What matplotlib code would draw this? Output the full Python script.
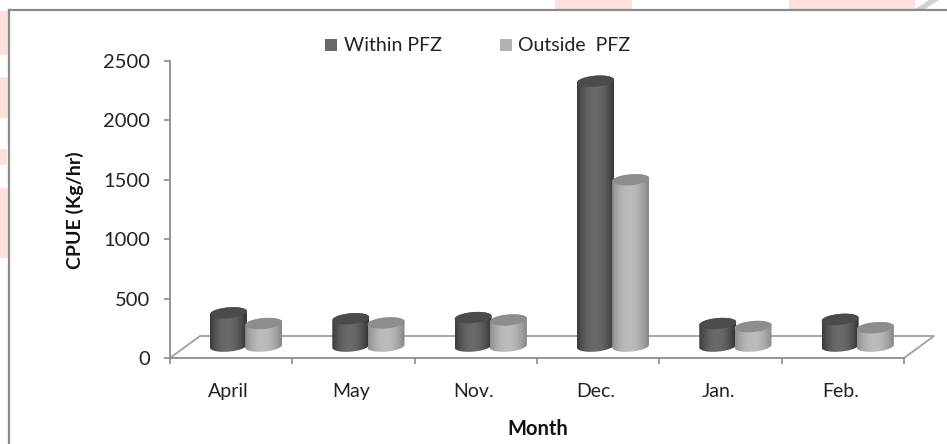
import numpy as np
import matplotlib
matplotlib.use("Agg")
import matplotlib.pyplot as plt
from matplotlib.colors import to_rgb
from matplotlib.patches import Rectangle, Polygon
from matplotlib.lines import Line2D

months = ["April", "May", "Nov.", "Dec.", "Jan.", "Feb."]
within_pfz = [280, 230, 240, 2230, 190, 225]
outside_pfz = [190, 195, 220, 1400, 165, 155]
yticks = [0, 500, 1000, 1500, 2000, 2500]
series_names = ["Within PFZ", "Outside  PFZ"]

W, H = 947, 444
plt.rcParams["font.family"] = ["Lato", "DejaVu Sans"]
fig = plt.figure(figsize=(W / 100, H / 100), dpi=100, facecolor="white")


def fx(p):
    return p / W


def fy(p):
    return 1 - p / H


# background: watermark fragments and the frame
for x0, x1, y0, y1 in [(0, 8, 11, 55), (0, 8, 77, 118), (0, 7, 149, 165), (0, 8, 188, 258),
                       (555, 632, 0, 9), (789, 915, 0, 9)]:
    fig.add_artist(Rectangle((fx(x0), fy(y1)), (x1 - x0) / W, (y1 - y0) / H,
                             transform=fig.transFigure, fc="#ffe0dd", ec="none"))
fig.add_artist(Polygon([(fx(915), fy(9)), (fx(929), fy(0)), (fx(939), fy(0)), (fx(925), fy(9))],
                       closed=True, transform=fig.transFigure, fc="#d2d2d2", ec="none"))
fig.add_artist(Line2D([fx(9), fx(9)], [0, fy(10)], color="#8a8a8a", lw=1.6, transform=fig.transFigure))
fig.add_artist(Line2D([fx(8.5), 1], [fy(10), fy(10)], color="#8a8a8a", lw=1.6, transform=fig.transFigure))

ax = fig.add_axes([fx(170), fy(358), (904 - 170) / W, (358 - 61) / H])
n = len(months)
ax.patch.set_alpha(0)
for s in ("top", "right"):
    ax.spines[s].set_visible(False)
for s in ("left", "bottom"):
    ax.spines[s].set_color("#8c8c8c")
    ax.spines[s].set_linewidth(1.3)

ax.set_yticks(yticks)
ax.set_xticks(np.arange(n + 1))
ax.set_xticklabels([])
ax.tick_params(axis="both", color="#8c8c8c", length=4.5, width=1.2)
ax.tick_params(axis="y", labelsize=14.5, labelcolor="#222222", pad=10)
for i, m in enumerate(months):
    ax.text(i + 0.48, -286, m, ha="center", va="center", fontsize=14, color="#222222")

# floor of the 3D plot
px_x = n / 734
px_y = 2500 / 297
dx, dy = 30 * px_x, 22 * px_y
ax.plot([0, dx, n + dx, n], [0, dy, dy, 0], color="#a0a0a0", lw=1.3, clip_on=False, zorder=1)

# cylinders
width = 37 * px_x
rh = 5.5 * px_y
tilt = 1.5 * px_y
base = 100
offsets = [0.478, 0.766]
shades = [("#363636", "#6a6a6a", "#4b4b4b"), ("#8a8a8a", "#bcbcbc", "#8d8d8d")]


def grad(edge, mid):
    e = np.array(to_rgb(edge))
    m = np.array(to_rgb(mid))
    t = np.linspace(-1, 1, 64)
    w = (1 - np.abs(t + 0.05) ** 2)[:, None]
    return (e + (m - e) * np.clip(w, 0, 1))[None, :, :]


def rim(xc, level, a0, a1):
    # points of a slightly tilted ellipse round (xc, level), from angle a0 to a1
    a = np.linspace(a0, a1, 48)
    return np.column_stack([xc + width / 2 * np.cos(a),
                            level + rh * np.sin(a) + tilt * np.cos(a)])


def cylinder(xc, value, colors, z):
    x0, x1 = xc - width / 2, xc + width / 2
    top = base + value
    lower = rim(xc, base, np.pi, 2 * np.pi)
    upper = rim(xc, top, 0, np.pi)
    body = np.vstack([lower, upper])
    im = ax.imshow(grad(colors[0], colors[1]), extent=(x0, x1, base - rh - tilt, top + rh + tilt),
                   aspect="auto", origin="lower", zorder=z, interpolation="bilinear")
    im.set_clip_path(Polygon(body, closed=True, transform=ax.transData))
    ax.add_patch(Polygon(rim(xc, top, 0, 2 * np.pi), closed=True, fc=colors[2], ec="none", zorder=z + 0.1))


for i in range(n):
    cylinder(i + offsets[0], within_pfz[i], shades[0], 3)
    cylinder(i + offsets[1], outside_pfz[i], shades[1], 4)
ax.set_xlim(0, n)
ax.set_ylim(0, 2500)

# axis titles
fig.text(fx(75), fy(210), "CPUE (Kg/hr)", rotation=90, ha="center", va="center",
         fontsize=14, fontweight="bold", color="#111111")
fig.text(fx(538), fy(429), "Month", ha="center", va="center",
         fontsize=14.5, fontweight="bold", color="#111111")

# legend
for x, tx, col, name in [(325, 344, "#696969", series_names[0]), (500, 518, "#b2b2b2", series_names[1])]:
    fig.add_artist(Rectangle((fx(x), fy(51.5)), 12 / W, 12.5 / H, transform=fig.transFigure, fc=col, ec="none"))
    fig.text(fx(tx), fy(45.5), name, ha="left", va="center", fontsize=14, color="#222222")

fig.savefig("out.png", dpi=100)
